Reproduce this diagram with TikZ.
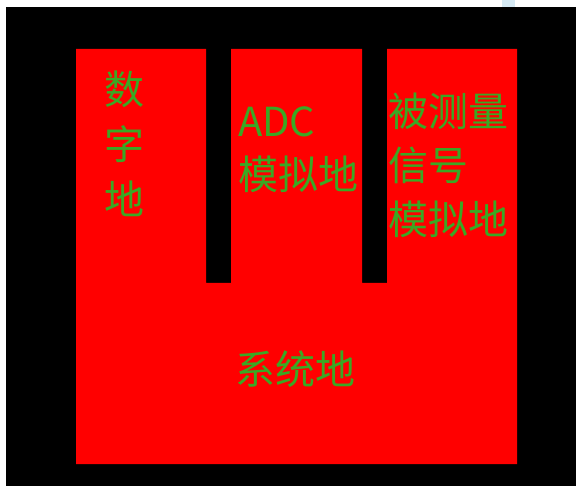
\documentclass[tikz,border=0pt]{standalone}
\usepackage{fontspec}
\newfontfamily\cjk{Noto Sans CJK SC}
\definecolor{boardred}{RGB}{255,0,0}
\definecolor{labelgreen}{RGB}{58,168,36}
\definecolor{paleblue}{RGB}{214,234,244}
\begin{document}
\begin{tikzpicture}[x=1pt,y=-1pt,
  lbl/.style={anchor=north west,inner sep=0pt,outer sep=0pt,align=left,
    text=labelgreen,font=\cjk\fontsize{40}{53}\selectfont}]
\useasboundingbox (0,0) rectangle (576,486);
\fill[white] (0,0) rectangle (576,486);
\fill[paleblue] (502,0) rectangle (515,7);
\fill[black] (6,7) rectangle (576,486);
% ground plane with two slots
\fill[boardred] (76,49) -- (206,49) -- (206,283) -- (231,283) -- (231,49)
  -- (362,49) -- (362,283) -- (387,283) -- (387,49) -- (517,49)
  -- (517,464) -- (76,464) -- cycle;
\node[lbl,font=\cjk\fontsize{40}{55}\selectfont] (digital) at (104,71) {数\\字\\地};
\node[lbl] (adc) at (238,107) {ADC\\模拟地};
\node[lbl,font=\cjk\fontsize{40}{54}\selectfont] (meas) at (388,93) {被测量\\信号\\模拟地};
\node[lbl] (sys) at (235,351) {系统地};
\end{tikzpicture}
\end{document}
